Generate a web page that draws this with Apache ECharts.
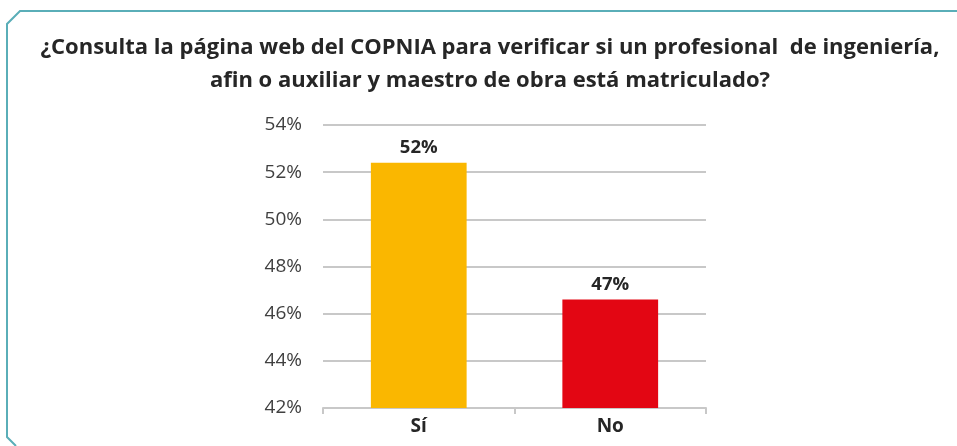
<!DOCTYPE html>
<html>
<head>
<meta charset="utf-8">
<script src="https://cdn.jsdelivr.net/npm/echarts@6/dist/echarts.min.js"></script>
<style>
  html, body { margin: 0; padding: 0; background: #fff; }
  #chart { width: 957px; height: 446px; }
</style>
</head>
<body>
<div id="chart"></div>
<script>
// datos de la encuesta
var categorias = ["Sí", "No"];
var valores = [52.4, 46.6];
var etiquetas = ["52%", "47%"];
var colores = ["#fab700", "#e30613"];
var titulo = "¿Consulta la página web del COPNIA para verificar si un profesional  de ingeniería,\nafin o auxiliar y maestro de obra está matriculado?";

var chart = echarts.init(document.getElementById("chart"));

chart.setOption({
    backgroundColor: "#fff",
    animation: false,
    title: {
        text: titulo,
        left: 485,
        top: 26,
        textAlign: "center",
        textStyle: {
            fontFamily: "Open Sans",
            fontWeight: "bold",
            fontSize: 22,
            lineHeight: 33,
            color: "#262626"
        }
    },
    graphic: [{
        type: "polyline",
        shape: { points: [[957, 11], [20, 11], [7, 24], [7, 437], [16, 446]] },
        style: { stroke: "#5aaeb8", lineWidth: 2, fill: null }
    }],
    grid: { left: 323, right: 251, top: 125, bottom: 38 },
    xAxis: {
        type: "category",
        data: categorias,
        axisLine: { lineStyle: { color: "#c8c8c8", width: 2 } },
        axisTick: { show: true, length: 6, lineStyle: { color: "#c8c8c8", width: 2 } },
        axisLabel: {
            margin: 9,
            fontFamily: "Open Sans",
            fontWeight: "bold",
            fontSize: 19,
            color: "#262626"
        }
    },
    yAxis: {
        type: "value",
        min: 42,
        max: 54,
        interval: 2,
        axisLine: { show: false },
        axisTick: { show: false },
        axisLabel: {
            margin: 21,
            fontFamily: "Open Sans",
            fontSize: 19,
            color: "#404040",
            formatter: function (v) { return v + "%"; }
        },
        splitLine: { lineStyle: { color: "#c8c8c8", width: 2 } }
    },
    series: [{
        type: "bar",
        barWidth: "50%",
        data: valores.map(function (v, i) {
            return { value: v, itemStyle: { color: colores[i] } };
        }),
        label: {
            show: true,
            position: "top",
            distance: 5,
            fontFamily: "Open Sans",
            fontWeight: "bold",
            fontSize: 18.5,
            color: "#262626",
            formatter: function (p) { return etiquetas[p.dataIndex]; }
        }
    }]
});
</script>
</body>
</html>
